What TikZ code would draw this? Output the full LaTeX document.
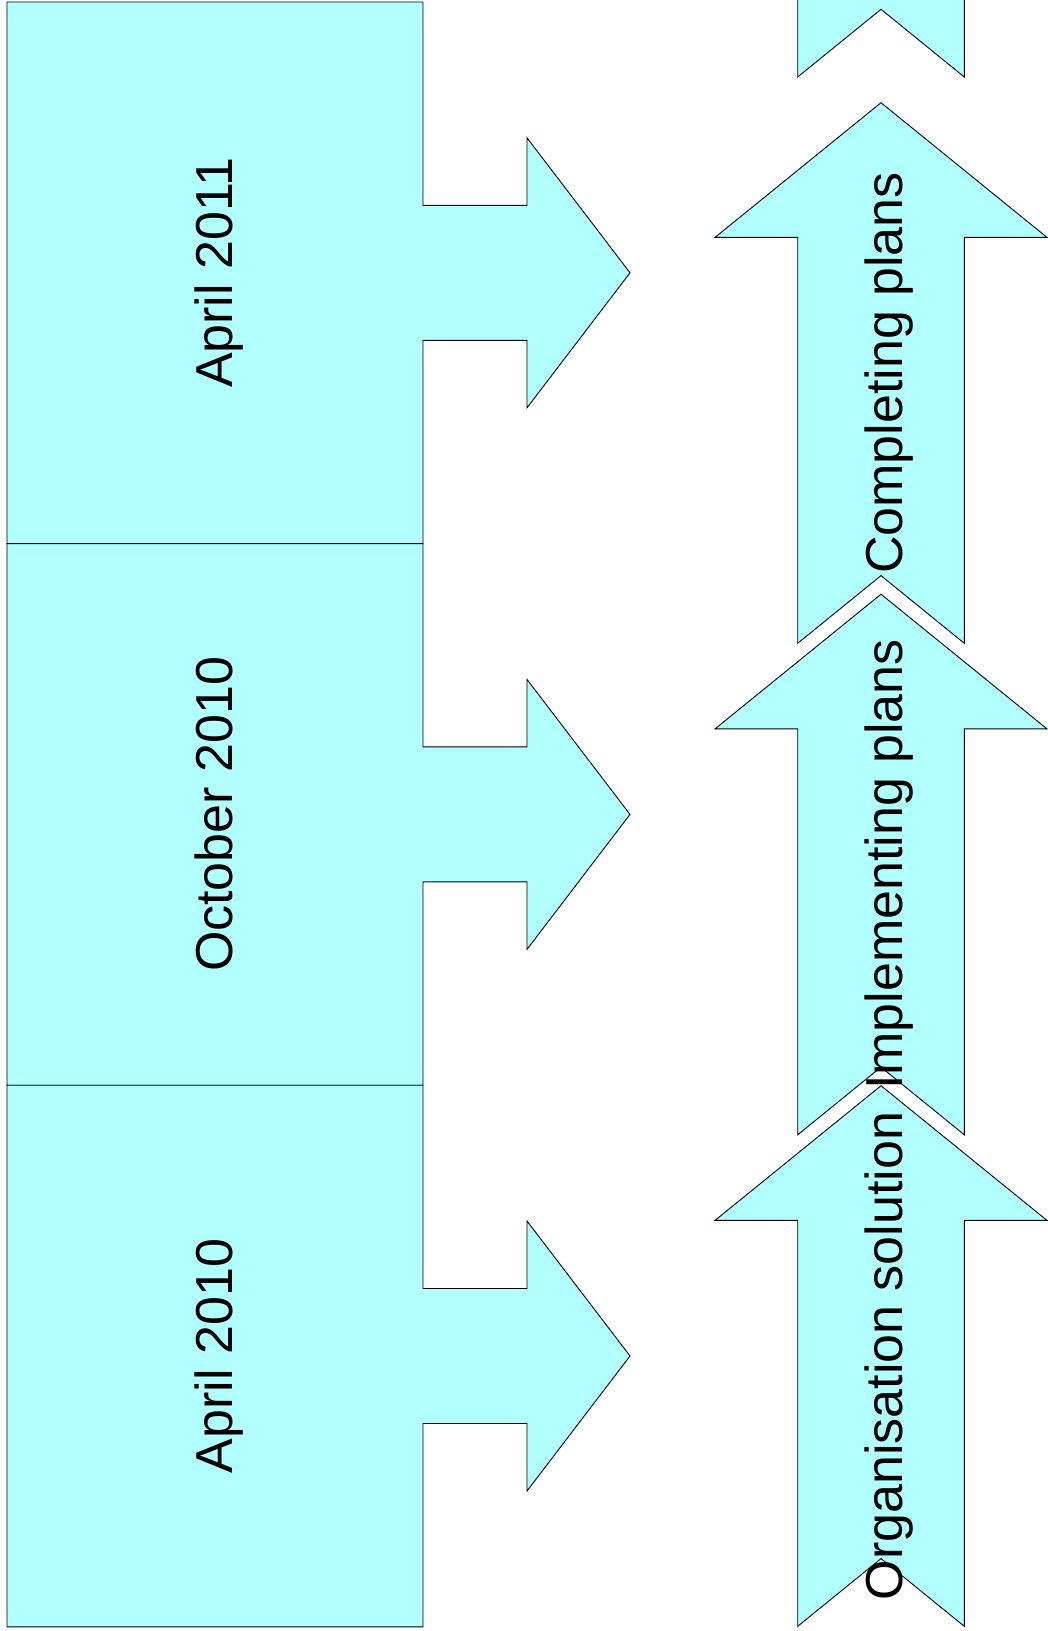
\documentclass[tikz,border=0pt]{standalone}
\usepackage{fontspec}
\setmainfont{Liberation Sans}
\definecolor{shapefill}{RGB}{178,255,255}
\tikzset{
  shapebox/.style={draw=black, line width=0.9pt, fill=shapefill, line join=miter},
  datelabel/.style={rotate=90, anchor=base, inner sep=0pt, font=\fontsize{52}{62}\selectfont},
  phaselabel/.style={rotate=90, anchor=base, inner sep=0pt, font=\fontsize{52}{62}\selectfont}
}
\newcommand{\callout}[1]{% #1 = top y
  \pgfmathsetmacro{\T}{#1}
  \pgfmathsetmacro{\B}{#1+541.6}
  \pgfmathsetmacro{\C}{#1+270.8}
  \draw[shapebox] (7,\T) -- (423,\T) -- (423,\C-67.5) -- (527,\C-67.5) -- (527,\C-135)
    -- (630,\C) -- (527,\C+135) -- (527,\C+67.5) -- (423,\C+67.5) -- (423,\B) -- (7,\B) -- cycle;
}
\newcommand{\uparrowshape}[1]{% #1 = tip y
  \pgfmathsetmacro{\tt}{#1}
  \pgfmathsetmacro{\hb}{#1+134.7}
  \pgfmathsetmacro{\bb}{#1+540.6}
  \pgfmathsetmacro{\nn}{#1+540.6-67.7}
  \draw[shapebox] (881,\tt) -- (1047,\hb) -- (964.3,\hb) -- (964.3,\bb) -- (881,\nn)
    -- (797.7,\bb) -- (797.7,\hb) -- (715,\hb) -- cycle;
}
\begin{document}
\begin{tikzpicture}[x=1pt,y=-1pt]
\useasboundingbox (0,0) rectangle (1048,1631);
\begin{scope}
\clip (0,0) rectangle (1048,1631);
\callout{2}
\callout{543.6}
\callout{1085.2}
\uparrowshape{-463.6}
\uparrowshape{102.7}
\uparrowshape{594.2}
\uparrowshape{1085.7}
\end{scope}
\node[datelabel] (d1) at (232,272.8) {April 2011};
\node[datelabel] (d2) at (232,814.4) {October 2010};
\node[datelabel] (d3) at (232,1356.0) {April 2010};
\node[phaselabel] (p1) at (902,373.0) {Completing plans};
\node[phaselabel] (p2) at (902,864.5) {Implementing plans};
\node[phaselabel] (p3) at (902,1356.0) {Organisation solution};
\end{tikzpicture}
\end{document}
